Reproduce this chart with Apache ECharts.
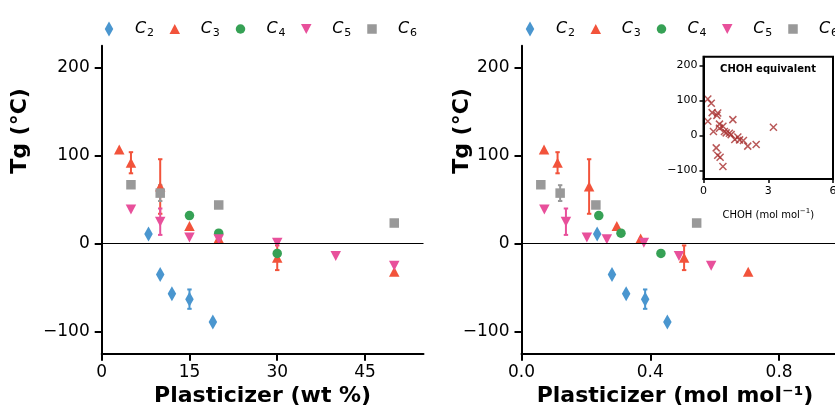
<!DOCTYPE html>
<html>
<head>
<meta charset="utf-8">
<script src="https://cdn.jsdelivr.net/npm/echarts@6/dist/echarts.min.js"></script>
<style>html,body{margin:0;padding:0;background:#fff}#c{width:835px;height:412px}</style>
</head>
<body>
<div id="c"></div>
<script>
// ---------- data ----------
const groups = ['C2', 'C3', 'C4', 'C5', 'C6'];
const subs = ['2', '3', '4', '5', '6'];

const c2Wt = [8, 10, 12, 15, 19];
const c2Mol = [0.235, 0.281, 0.325, 0.384, 0.453];
const c2Tg = [11, -35, -57, -63, -89];
const c2Err = [0, 0, 0, 11, 0];

const c3Wt = [3, 5, 10, 15, 20, 30, 50];
const c3Mol = [0.07, 0.112, 0.21, 0.296, 0.37, 0.505, 0.704];
const c3Tg = [107, 92, 65, 20, 6, -16, -32];
const c3Err = [0, 12, 31, 0, 0, 14, 0];

const c4Wt = [15, 20, 30];
const c4Mol = [0.24, 0.309, 0.433];
const c4Tg = [32, 12, -11];
const c4Err = [0, 0, 0];

const c5Wt = [5, 10, 15, 20, 30, 40, 50];
const c5Mol = [0.071, 0.138, 0.203, 0.265, 0.38, 0.489, 0.589];
const c5Tg = [39, 25, 7, 5, 1, -14, -25];
const c5Err = [0, 15, 0, 0, 0, 0, 0];

const c6Wt = [5, 10, 20, 50];
const c6Mol = [0.06, 0.12, 0.231, 0.544];
const c6Tg = [67, 57.5, 44, 23.5];
const c6Err = [0, 9, 0, 0];

const chohX = [0.20, 0.36, 0.40, 0.66, 0.62, 0.20, 0.74, 1.36, 0.46, 0.74, 0.90, 0.97, 1.20, 1.28, 1.05, 0.59, 0.66, 0.77, 0.90, 1.45, 1.59, 1.67, 1.85, 2.05, 2.44, 3.24];
const chohTg = [104, 92, 65, 64, 57, 40, 32, 45, 11, 20, 26, 11, 6, 2, 7, -36, -57, -63, -89, -12, -5, -13, -15, -31, -26, 23];

const tgTicks = [-100, 0, 100, 200];
const wtTicks = [0, 15, 30, 45];
const molTicks = [0, 0.4, 0.8];
const chohTicks = [0, 3, 6];

// ---------- styling ----------
const FONT = 'DejaVu Sans';
const colors = ['#4a96cf', '#f2533b', '#36a155', '#e8509b', '#999999'];
const symbols = ['diamond', 'triangle', 'circle', 'triangle', 'rect'];
const rotates = [0, 0, 0, 180, 0];
const sizes = [[8.5, 15], [10.5, 10], [9.5, 9.5], [10.5, 10], [9.5, 9.5]];
const legendIcons = [
  'path://M0,0M16,16M8,0.5L12.25,8L8,15.5L3.75,8Z',
  'path://M0,0M16,16M8,3L13.25,13L2.75,13Z',
  'path://M0,0M16,16M3.25,8A4.75,4.75,0,1,1,12.75,8A4.75,4.75,0,1,1,3.25,8Z',
  'path://M0,0M16,16M2.75,3L13.25,3L8,13Z',
  'path://M0,0M16,16M3.25,3.25L12.75,3.25L12.75,12.75L3.25,12.75Z'
];

const wtX = [c2Wt, c3Wt, c4Wt, c5Wt, c6Wt];
const molX = [c2Mol, c3Mol, c4Mol, c5Mol, c6Mol];
const tgY = [c2Tg, c3Tg, c4Tg, c5Tg, c6Tg];
const errs = [c2Err, c3Err, c4Err, c5Err, c6Err];

const minus = v => String(v).replace('-', '\u2212');

function mainY(gi) {
  return {
    gridIndex: gi, type: 'value', min: -125, max: 225,
    axisLine: { show: true, lineStyle: { color: '#000', width: 2 } },
    axisTick: { show: true, length: 7, lineStyle: { color: '#000', width: 2 }, customValues: tgTicks },
    axisLabel: { show: true, margin: 12, color: '#000', fontSize: 17, fontFamily: FONT, customValues: tgTicks, formatter: minus },
    splitLine: { show: false }
  };
}

const legendRich = {
  g: { width: 13 },
  i: { width: 12, fontSize: 16, fontStyle: 'italic', fontFamily: FONT, color: '#000', lineHeight: 20, verticalAlign: 'middle' },
  s: { width: 19.75, fontSize: 11, fontFamily: FONT, color: '#000', padding: [9, 0, 0, 0], lineHeight: 20, verticalAlign: 'middle' },
  e: { width: 8, fontSize: 11, fontFamily: FONT, color: '#000', padding: [9, 0, 0, 0], lineHeight: 20, verticalAlign: 'middle' }
};
function makeLegend(left) {
  return {
    left: left, top: 14, orient: 'horizontal', width: 360,
    itemWidth: 16, itemHeight: 16, itemGap: 0,
    data: groups.map((g, i) => ({ name: g, icon: legendIcons[i] })),
    formatter: name => {
      const k = groups.indexOf(name);
      return '{g|}{i|C}{' + (k === 4 ? 'e' : 's') + '|' + subs[k] + '}';
    },
    textStyle: { rich: legendRich },
    selectedMode: false
  };
}

const series = [];
[0, 1].forEach(gi => {
  const xs = gi === 0 ? wtX : molX;
  groups.forEach((g, k) => {
    const d = [];
    xs[k].forEach((x, j) => { if (errs[k][j] > 0) d.push([x, tgY[k][j], errs[k][j]]); });
    if (!d.length) return;
    series.push({
      type: 'custom', xAxisIndex: gi, yAxisIndex: gi, z: 2, silent: true,
      data: d,
      renderItem: (params, api) => {
        const x = api.value(0), y = api.value(1), e = api.value(2);
        const t = api.coord([x, y + e]), b = api.coord([x, y - e]);
        const st = { stroke: colors[k], lineWidth: 2 };
        return { type: 'group', children: [
          { type: 'line', shape: { x1: t[0], y1: t[1], x2: b[0], y2: b[1] }, style: st },
          { type: 'line', shape: { x1: t[0] - 2.2, y1: t[1], x2: t[0] + 2.2, y2: t[1] }, style: st },
          { type: 'line', shape: { x1: b[0] - 2.2, y1: b[1], x2: b[0] + 2.2, y2: b[1] }, style: st }
        ] };
      }
    });
  });
  groups.forEach((g, k) => {
    const s = {
      name: g, type: 'scatter', xAxisIndex: gi, yAxisIndex: gi, z: 3,
      symbol: symbols[k], symbolSize: sizes[k], symbolRotate: rotates[k],
      itemStyle: { color: colors[k], opacity: 1 },
      data: xs[k].map((x, j) => [x, tgY[k][j]])
    };
    if (k === 0) {
      s.markLine = { silent: true, symbol: 'none', label: { show: false },
        lineStyle: { color: '#000', width: 1.2, type: 'solid' }, data: [{ yAxis: 0 }], animation: false };
    }
    series.push(s);
  });
});
series.push({
  type: 'scatter', xAxisIndex: 2, yAxisIndex: 2, z: 5,
  symbol: 'path://M0,0L10,10M10,0L0,10', symbolSize: 7,
  itemStyle: { color: 'rgba(0,0,0,0)', borderColor: '#a8302f', borderWidth: 1.5 },
  data: chohX.map((x, j) => [x, chohTg[j]])
});

const titleStyle = { fontSize: 22, fontWeight: 'bold', color: '#000', fontFamily: FONT };

const option = {
  animation: false,
  backgroundColor: '#fff',
  textStyle: { fontFamily: FONT },
  legend: [makeLegend(96), makeLegend(517)],
  grid: [
    { left: 101.7, top: 45.7, width: 321.8, height: 308, outerBoundsMode: 'none', containLabel: false },
    { left: 521.5, top: 45.7, width: 322, height: 308, outerBoundsMode: 'none', containLabel: false },
    { left: 703.5, top: 56.7, width: 129.5, height: 122.3, outerBoundsMode: 'none', containLabel: false, show: true, backgroundColor: '#fff', borderColor: '#000', borderWidth: 2, z: 4 }
  ],
  xAxis: [
    { gridIndex: 0, type: 'value', min: 0, max: 55,
      axisLine: { show: true, onZero: false, lineStyle: { color: '#000', width: 2 } },
      axisTick: { show: true, length: 7, lineStyle: { color: '#000', width: 2 }, customValues: wtTicks },
      axisLabel: { margin: 10, color: '#000', fontSize: 17, fontFamily: FONT, customValues: wtTicks },
      splitLine: { show: false },
      name: 'Plasticizer (wt %)', nameLocation: 'middle', nameGap: 30,
      nameTextStyle: titleStyle },
    { gridIndex: 1, type: 'value', min: 0, max: 1.0,
      axisLine: { show: true, onZero: false, lineStyle: { color: '#000', width: 2 } },
      axisTick: { show: true, length: 7, lineStyle: { color: '#000', width: 2 }, customValues: molTicks },
      axisLabel: { margin: 10, color: '#000', fontSize: 17, fontFamily: FONT, customValues: molTicks, formatter: v => v.toFixed(1) },
      splitLine: { show: false },
      name: 'Plasticizer (mol mol\u207b\u00b9)', nameLocation: 'middle', nameGap: 30,
      nameTextStyle: Object.assign({ padding: [0, 15, 0, 0] }, titleStyle) },
    { gridIndex: 2, type: 'value', min: 0, max: 6, z: 6,
      axisLine: { show: true, onZero: false, lineStyle: { color: '#000', width: 2 } },
      axisTick: { show: true, length: 4, lineStyle: { color: '#000', width: 1.5 }, customValues: chohTicks },
      axisLabel: { margin: 7, color: '#000', fontSize: 11, fontFamily: FONT, customValues: chohTicks },
      splitLine: { show: false },
      name: '{b|CHOH (mol mol}{p|\u22121}{b|)}', nameLocation: 'middle', nameGap: 27,
      nameTextStyle: { rich: {
        b: { fontSize: 10, color: '#000', fontFamily: FONT, lineHeight: 14, verticalAlign: 'bottom' },
        p: { fontSize: 7, color: '#000', fontFamily: FONT, padding: [0, 0, 5, 0], lineHeight: 14, verticalAlign: 'bottom' } } } }
  ],
  yAxis: [
    mainY(0), mainY(1),
    { gridIndex: 2, type: 'value', min: -125, max: 225, z: 6,
      axisLine: { show: true, lineStyle: { color: '#000', width: 2 } },
      axisTick: { show: true, length: 4, lineStyle: { color: '#000', width: 1.5 }, customValues: tgTicks },
      axisLabel: { margin: 6, color: '#000', fontSize: 11, fontFamily: FONT, customValues: tgTicks, formatter: minus },
      splitLine: { show: false } }
  ],
  graphic: [
    { type: 'text', x: 20, y: 131, rotation: Math.PI / 2,
      style: { text: 'Tg (\u00b0C)', font: 'bold 22px "DejaVu Sans"', fill: '#000', align: 'center', verticalAlign: 'middle' } },
    { type: 'text', x: 462, y: 131, rotation: Math.PI / 2,
      style: { text: 'Tg (\u00b0C)', font: 'bold 22px "DejaVu Sans"', fill: '#000', align: 'center', verticalAlign: 'middle' } },
    { type: 'text', x: 768, y: 69, z: 100,
      style: { text: 'CHOH equivalent', font: 'bold 10px "DejaVu Sans"', fill: '#000', align: 'center', verticalAlign: 'middle' } }
  ],
  series: series
};

const chart = echarts.init(document.getElementById('c'), null, { renderer: 'canvas' });
chart.setOption(option);
</script>
</body>
</html>
